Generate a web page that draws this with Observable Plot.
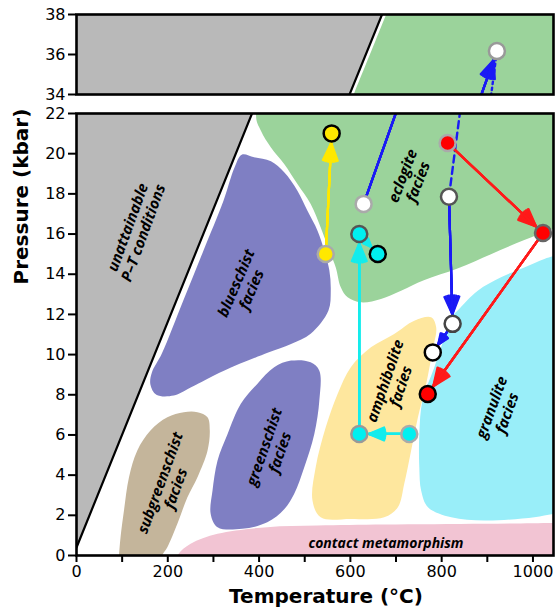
<!DOCTYPE html>
<html>
<head>
<meta charset="utf-8">
<script src="https://cdn.jsdelivr.net/npm/d3@7"></script>
<script src="https://cdn.jsdelivr.net/npm/@observablehq/plot@0.6"></script>
<style>
  body { margin: 0; background: #fff; }
  #chart { width: 555px; }
  #chart svg { display: block; }
</style>
</head>
<body>
<div id="chart"></div>
<script>
// ---------- scales & ticks ----------
const tempDomain = [0, 1045];
const upperPressureDomain = [34, 38];
const lowerPressureDomain = [0, 22];
const xTickValues = [0, 100, 200, 300, 400, 500, 600, 700, 800, 900, 1000];
const xTickLabels = ["0", "", "200", "", "400", "", "600", "", "800", "", "1000"];
const upperYTicks = [34, 36, 38];
const lowerYTicks = [0, 2, 4, 6, 8, 10, 12, 14, 16, 18, 20, 22];
const xTitle = "Temperature (°C)";
const yTitle = "Pressure (kbar)";

// ---------- regions (T in °C, P in kbar) ----------
const unattainableT = [0, 776.2, -60, -60];
const unattainableP = [0.4, 44, 44, 0.4];
const boundaryT = [0, 776.2];
const boundaryP = [0.4, 44];

const eclogiteT = [785.2, 731.8, 678.4, 607.2, 393.5, 404, 426, 455, 484, 513, 535, 554, 568, 579, 594, 623, 667, 711, 761, 836, 908, 981, 1051, 1130, 1130];
const eclogiteP = [44, 41, 38, 34, 22, 21.14, 20.31, 19.49, 18.49, 17.5, 16.33, 15.17, 14.34, 13.35, 12.85, 12.6, 12.77, 13.18, 13.7, 14.3, 15.0, 15.7, 16.3, 16.7, 44];

const blueschistT = [362, 389, 426, 455, 484, 506, 528, 543, 554, 557, 552, 513, 470, 420, 323, 250, 213, 175, 162, 165, 187, 234, 278, 322, 346];
const blueschistP = [19.95, 19.82, 19.62, 19.07, 18.16, 17.16, 16.17, 15.17, 14.18, 13.18, 12.2, 11.04, 10.53, 10.1, 9.2, 8.36, 7.96, 8.0, 8.5, 9.1, 10.05, 12.69, 15.17, 17.66, 19.3];

const greenschistT = [470, 513, 532, 532, 521, 499, 477, 455, 418, 363, 309, 294, 298, 309, 331, 360, 396, 433];
const greenschistP = [9.7, 9.62, 9.2, 7.71, 6.05, 4.39, 3.07, 2.3, 1.65, 1.33, 1.41, 2.07, 3.23, 4.73, 6.05, 7.55, 8.54, 9.37];

const subgreenschistT = [265, 287, 292, 287, 265, 243, 221, 199, 188, 185, 90, 93, 96.5, 104, 115, 133, 162, 199, 235];
const subgreenschistP = [7.13, 6.88, 6.22, 5.22, 3.9, 2.9, 1.58, 0.41, 0, -0.8, -0.8, 0, 0.91, 2.24, 3.9, 5.22, 6.22, 6.88, 7.13];

const amphiboliteT = [777, 788, 780, 766, 748, 733, 718, 704, 674, 601, 535, 517, 524, 546, 572, 601, 645, 696, 740];
const amphiboliteP = [11.86, 11.36, 10.2, 8.54, 6.88, 5.22, 3.57, 2.4, 1.9, 1.82, 1.9, 2.74, 4.39, 6.38, 8.04, 9.37, 10.36, 11.03, 11.69];

const granuliteT = [818, 835, 879, 930, 981, 1025, 1051, 1090, 1090, 1047, 1003, 894, 821, 770, 755, 751, 751, 758, 784, 808];
const granuliteP = [11.75, 12.19, 13.18, 13.85, 14.34, 14.76, 14.93, 15.1, 2.1, 2.07, 1.9, 1.74, 1.9, 2.4, 3.23, 4.39, 6.05, 7.71, 9.37, 11.0];

const contactT = [221, 250, 309, 418, 528, 674, 894, 1047, 1100, 1100, 210];
const contactP = [0.0, 0.58, 1.08, 1.41, 1.49, 1.54, 1.58, 1.62, 1.63, -1, -1];

// ---------- labels ----------
const faciesLabels = ["unattainable\nP–T conditions", "blueschist\nfacies", "eclogite\nfacies", "amphibolite\nfacies", "granulite\nfacies", "greenschist\nfacies", "subgreenschist\nfacies"];
const labelT = [129, 366, 731, 693, 926, 428, 200];
const labelP = [16.2, 13.4, 18.75, 8.56, 7.24, 5.27, 3.48];
const labelAngle = [-70, -67, -69, -71, -70, -71, -70];
const contactLabel = ["contact metamorphism"];
const contactLabelT = [678];
const contactLabelP = [0.61];

// ---------- P–T paths ----------
const arrowT1 = [546, 629, 816, 824, 813, 1022, 729, 619.5, 619.5];
const arrowP1 = [15.01, 17.5, 17.86, 11.53, 20.53, 16.05, 6.05, 6.05, 16.0];
const arrowT2 = [559, 921, 824, 780.5, 1022, 769.5, 619.5, 619.5, 660];
const arrowP2 = [21.01, 36.17, 11.53, 10.11, 16.05, 8.04, 6.05, 16.0, 15.01];
const arrowColor = ["#ffe800", "#1a1af5", "#1a1af5", "#1a1af5", "#ff1a1a", "#ff1a1a", "#14ecec", "#14ecec", "#14ecec"];
const blueDashT = [816, 921];
const blueDashP = [17.86, 36.17];

const dotT = [921, 629, 816, 824, 780.5, 813, 1022, 769.5, 546, 559, 619.5, 660, 619.5, 729];
const dotP = [36.17, 17.5, 17.86, 11.53, 10.11, 20.53, 16.05, 8.04, 15.01, 21.01, 16.0, 15.01, 6.05, 6.05];
const dotFill = ["#ffffff", "#ffffff", "#ffffff", "#ffffff", "#ffffff", "#ff0000", "#ff0000", "#ff0000", "#ffe800", "#ffe800", "#00f0f0", "#00f0f0", "#00f0f0", "#00f0f0"];
const dotStroke = ["#999999", "#aaaaaa", "#555555", "#444444", "#000000", "#aaaaaa", "#666666", "#000000", "#aaaaaa", "#000000", "#555555", "#000000", "#999999", "#aaaaaa"];

// ---------- helpers ----------
const idx = (a) => d3.range(a.length);
const blob = (T, P, fill, curve = "catmull-rom-closed") =>
  Plot.line(idx(T), {x: T, y: P, curve, fill, stroke: "none", clip: true});
const labelFont = {fontStyle: "italic", fontWeight: "bold", fontFamily: "Open Sans, Noto Sans, sans-serif", fill: "black"};

function regionMarks() {
  return [
    blob(unattainableT, unattainableP, "#b9b9b9", "linear-closed"),
    blob(subgreenschistT, subgreenschistP, "#c4b59b"),
    blob(blueschistT, blueschistP, "#7f7fc3"),
    blob(greenschistT, greenschistP, "#7f7fc3"),
    blob(amphiboliteT, amphiboliteP, "#fee79e"),
    blob(granuliteT, granuliteP, "#99eef9"),
    blob(contactT, contactP, "#f2c4d3"),
    blob(eclogiteT, eclogiteP, "#9bd39b"),
    Plot.line(idx(boundaryT), {x: boundaryT, y: boundaryP, stroke: "black", strokeWidth: 2.2, clip: true})
  ];
}

function pathMarks(dash) {
  return [
    Plot.line(idx(blueDashT), {x: blueDashT, y: blueDashP, stroke: "#1a1af5", strokeWidth: 2.4, strokeDasharray: dash, clip: true}),
    ...[8, 18, 28, 38, 46].map((a) => Plot.arrow(idx(arrowT1), {
      x1: arrowT1, y1: arrowP1, x2: arrowT2, y2: arrowP2, stroke: arrowColor,
      strokeWidth: 2.2, headLength: 13, headAngle: a, insetEnd: 9.5, clip: true
    })),
    Plot.dot(idx(dotT), {x: dotT, y: dotP, r: 8, fill: dotFill, stroke: dotStroke, strokeWidth: 2.5, clip: true}),
    Plot.frame({stroke: "black", strokeWidth: 2.6})
  ];
}

const commonStyle = {fontFamily: "DejaVu Sans, sans-serif", fontSize: "16px", color: "black", background: "white"};

const topPlot = Plot.plot({
  width: 555, height: 104,
  marginTop: 14, marginBottom: 10, marginLeft: 76, marginRight: 2,
  x: {domain: tempDomain, axis: null},
  y: {domain: upperPressureDomain},
  color: {type: "identity"},
  style: commonStyle,
  marks: [
    ...regionMarks(),
    ...pathMarks("2.5,3.5"),
    Plot.axisY(upperYTicks, {tickSize: 8, tickPadding: 3, strokeWidth: 2, label: null})
  ]
});

const bottomPlot = Plot.plot({
  width: 555, height: 509,
  marginTop: 9, marginBottom: 58, marginLeft: 76, marginRight: 2,
  x: {domain: tempDomain},
  y: {domain: lowerPressureDomain},
  color: {type: "identity"},
  style: commonStyle,
  marks: [
    ...regionMarks(),
    Plot.text(idx(faciesLabels), {x: labelT, y: labelP, text: faciesLabels, rotate: labelAngle,
      fontSize: 15, lineHeight: 1.1, ...labelFont}),
    Plot.text(contactLabel, {x: contactLabelT, y: contactLabelP, text: (d) => d, fontSize: 14, ...labelFont}),
    ...pathMarks("7,4.5"),
    Plot.axisY(lowerYTicks, {tickSize: 8, tickPadding: 3, strokeWidth: 2, label: null}),
    Plot.axisX(xTickValues, {tickSize: 7, tickPadding: 3, strokeWidth: 2, label: null,
      tickFormat: (d) => xTickLabels[xTickValues.indexOf(d)]}),
    Plot.text([xTitle], {text: (d) => d, frameAnchor: "bottom", dx: 11, dy: 41, lineAnchor: "middle",
      fontSize: 20, fontWeight: "bold", fontFamily: "DejaVu Sans, sans-serif", fill: "black"}),
    Plot.text([yTitle], {text: (d) => d, frameAnchor: "left", dx: -55, dy: -50, rotate: -90, lineAnchor: "middle",
      fontSize: 20, fontWeight: "bold", fontFamily: "DejaVu Sans, sans-serif", fill: "black"})
  ]
});

const chart = document.getElementById("chart");
chart.append(topPlot, bottomPlot);
</script>
</body>
</html>
